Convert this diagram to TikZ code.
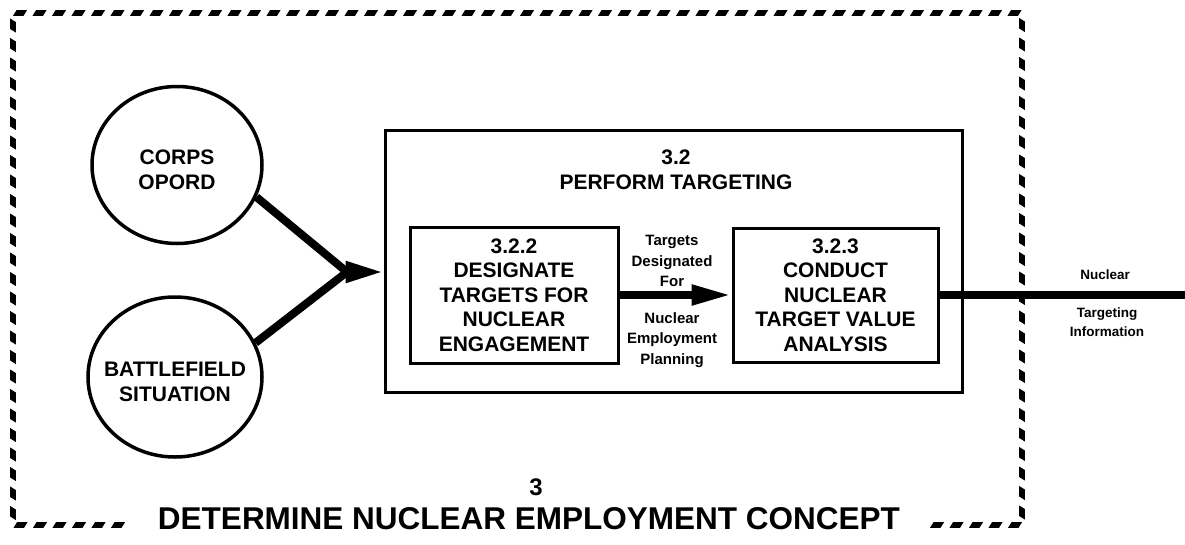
\documentclass[tikz,border=0pt]{standalone}
\usepackage{fontspec}
\setmainfont{Liberation Sans}
\usetikzlibrary{arrows.meta,decorations.markings,shapes.geometric}
\begin{document}
\begin{tikzpicture}[x=1pt,y=-1pt,
  rope/.style={decorate,decoration={markings,
      mark=between positions 0 and 1 step 19.5pt with {\fill[black] (-7pt,-2.8pt) -- (3.5pt,-2.8pt) -- (7pt,2.8pt) -- (-3.5pt,2.8pt) -- cycle;}}},
  src/.style={draw,ellipse,line width=3.5pt,inner sep=0pt},
  srctext/.style={align=center,inner sep=0pt,font=\fontsize{21}{24.5}\selectfont\bfseries},
  proc/.style={draw,rectangle,line width=3pt,inner sep=0pt,align=center,
      font=\fontsize{21}{24.5}\selectfont\bfseries},
  ttl/.style={align=center,font=\fontsize{21}{25}\selectfont\bfseries},
  lbl/.style={align=center,inner sep=0pt,font=\fontsize{15}{20.5}\selectfont\bfseries},
  olbl/.style={align=center,inner sep=0pt,font=\fontsize{13.5}{19}\selectfont\bfseries},
  flow/.style={line width=8pt,line join=miter},
  bighead/.style={-{Triangle[length=38pt,width=20pt]}},
  midhead/.style={-{Triangle[length=40pt,width=19pt]}},
]
\useasboundingbox (0,0) rectangle (1185,544);

% outer dashed frame of process 3
\coordinate (fbl) at (118,525);
\coordinate (fbr) at (925,525);
\path[rope] (fbl) -- (13,525) -- (13,13) -- (1022,13) -- (1022,525) -- (fbr);

% sources
\node[src,minimum width=170pt,minimum height=157pt] (corps) at (177,165) {};
\node[srctext] (corpst) at ([yshift=-5pt]corps.center) {CORPS\\OPORD};
\node[src,minimum width=174pt,minimum height=160pt] (bf) at (175,377) {};
\node[srctext] (bft) at ([yshift=-5pt]bf.center) {BATTLEFIELD\\SITUATION};

% process 3.2
\node[draw,rectangle,line width=3pt,minimum width=577pt,minimum height=262pt] (b32) at (673.5,261) {};
\node[ttl] (t32) at (676,170) {3.2\\PERFORM TARGETING};

\node[proc,minimum width=208pt,minimum height=136pt] (b322) at (514,295)
  {3.2.2\\DESIGNATE\\TARGETS FOR\\NUCLEAR\\ENGAGEMENT};
\node[proc,minimum width=205pt,minimum height=134pt] (b323) at (835.5,295)
  {3.2.3\\CONDUCT\\NUCLEAR\\TARGET VALUE\\ANALYSIS};

% inputs
\coordinate (j) at (347,272);
\draw[flow] (corps.-22) -- (j) -- (bf.23);
\draw[flow,bighead] (j) -- (j -| b32.west);

% internal flow
\draw[flow,midhead] (b322.east) -- (b323.west);
\node[lbl] (la) at (672,261) {Targets\\Designated\\For};
\node[lbl] (lb) at (672,340) {Nuclear\\Employment\\Planning};

% output
\coordinate (out) at (1190,295);
\draw[flow] (b323.east) -- (out);
\node[olbl] (oa) at (1105,275) {Nuclear};
\node[olbl] (ob) at (1107,322) {Targeting\\Information};

% title of process 3
\node[font=\fontsize{24}{24}\selectfont\bfseries] (n3) at (536,487) {3};
\node[font=\fontsize{31.5}{31.5}\selectfont\bfseries] (t3) at (529,519) {DETERMINE NUCLEAR EMPLOYMENT CONCEPT};
\end{tikzpicture}
\end{document}
